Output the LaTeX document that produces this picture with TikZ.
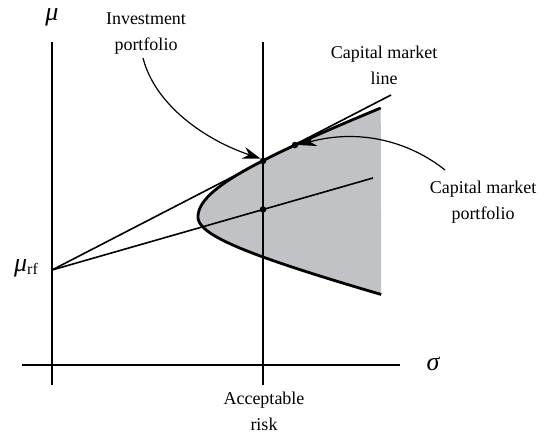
\documentclass[tikz,border=0pt]{standalone}
\usepackage{fontspec}
\setmainfont{Liberation Serif}
\usetikzlibrary{arrows.meta}
\definecolor{regiongray}{RGB}{193,194,197}
\begin{document}
\begin{tikzpicture}[x=1pt,y=-1pt,
  thinline/.style={line width=1.6pt},
  thickcurve/.style={line width=2.8pt},
  lbl/.style={font=\fontsize{18}{26}\selectfont, align=center, inner sep=0pt},
  greek/.style={font=\fontsize{26}{26}\selectfont\itshape, inner sep=0pt},
  leader/.style={line width=1.2pt, -{Stealth[length=18pt,width=12pt,inset=6pt]}},
  dotmark/.style={circle, fill=black, inner sep=0pt, minimum size=6.5pt}]
\useasboundingbox (0,0) rectangle (542,434);
% coordinates
\coordinate (ytop) at (52,42);
\coordinate (ybot) at (52,385);
\coordinate (xleft) at (22,365);
\coordinate (xright) at (400,365);
\coordinate (rtop) at (263,42);
\coordinate (rbot) at (263,385);
\coordinate (rf) at (52,270);
\coordinate (cmlend) at (391,95);
\coordinate (lowend) at (373,178);
% shaded region
\fill[regiongray] plot[domain=-10.9:0,samples=60,smooth] ({52+10*sqrt(213.16+7.3*\x*\x)},{217+10*\x})
  -- plot[domain=0:7.75,samples=60,smooth] ({52+10*sqrt(213.16+14.5*\x*\x)},{217+10*\x}) -- cycle;
% axes
\draw[thinline] (ytop) -- (ybot);
\draw[thinline] (xleft) -- (xright);
\draw[thinline] (rtop) -- (rbot);
% lines
\draw[thinline] (rf) -- (cmlend);
\draw[thinline] (rf) -- (lowend);
% efficient frontier
\draw[thickcurve] plot[domain=-10.9:0,samples=60,smooth] ({52+10*sqrt(213.16+7.3*\x*\x)},{217+10*\x})
  -- plot[domain=0:7.75,samples=60,smooth] ({52+10*sqrt(213.16+14.5*\x*\x)},{217+10*\x});
% dots
\node[dotmark] (ip) at (263,161) {};
\node[dotmark] (mid) at (263,209.5) {};
\node[dotmark] (cmp) at (295,145) {};
% labels
\node[greek] (mu) at (52,17) {μ};
\node[greek] (sigma) at (433,364) {σ};
\node[inner sep=0pt] (murf) at (26,268) {\fontsize{26}{26}\selectfont\itshape μ\upshape\raisebox{-0.25ex}{\fontsize{16}{16}\selectfont rf}};
\node[lbl] (iplbl) at (146,34) {Investment\\portfolio};
\node[lbl] (cmllbl) at (384,65) {Capital market\\line};
\node[lbl] (cmplbl) at (483,202) {Capital market\\portfolio};
\node[lbl] (risklbl) at (264,411) {Acceptable\\risk};
% leaders
\coordinate (ipstart) at (143,58);
\coordinate (cmpstart) at (445,170);
\draw[leader] (ipstart) .. controls (155,105) and (205,140) .. (ip.north west);
\draw[leader] (cmpstart) .. controls (410,142) and (360,128) .. (cmp.east);
\end{tikzpicture}
\end{document}
